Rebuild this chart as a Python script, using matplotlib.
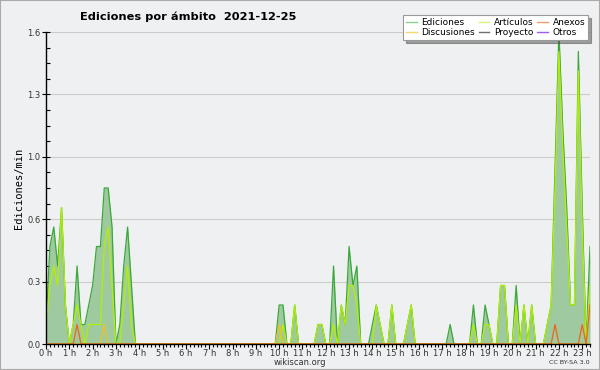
import numpy as np
import matplotlib
matplotlib.use("Agg")
import matplotlib.pyplot as plt
from matplotlib.lines import Line2D
from matplotlib.patches import Rectangle

# edits per minute, one value per 10-minute bin (00:00 .. 23:20)
ediciones = [
    0.1, 0.5, 0.6, 0.4, 0.7, 0.2, 0, 0.1, 0.4, 0.1, 0.1, 0.2,
    0.3, 0.5, 0.5, 0.8, 0.8, 0.6, 0, 0.1, 0.4, 0.6, 0.3, 0,
    0, 0, 0, 0, 0, 0, 0, 0, 0, 0, 0, 0,
    0, 0, 0, 0, 0, 0, 0, 0, 0, 0, 0, 0,
    0, 0, 0, 0, 0, 0, 0, 0, 0, 0, 0, 0,
    0.2, 0.2, 0, 0, 0.2, 0, 0, 0, 0, 0, 0.1, 0.1,
    0, 0, 0.4, 0, 0.2, 0.1, 0.5, 0.3, 0.4, 0, 0, 0,
    0.1, 0.2, 0.1, 0, 0, 0.2, 0, 0, 0, 0.1, 0.2, 0,
    0, 0, 0, 0, 0, 0, 0, 0, 0.1, 0, 0, 0,
    0, 0, 0.2, 0, 0, 0.2, 0.1, 0, 0, 0.3, 0.3, 0,
    0, 0.3, 0, 0.2, 0, 0.2, 0, 0, 0, 0.1, 0.2, 0.9,
    1.6, 1.1, 0.7, 0.2, 0.2, 1.5, 0.7, 0, 0.5,
]
articulos = [
    0.1, 0.3, 0.4, 0.3, 0.7, 0.2, 0, 0.1, 0.2, 0.1, 0, 0.1,
    0.1, 0.1, 0.1, 0.5, 0.6, 0.3, 0, 0, 0.2, 0.4, 0.1, 0,
    0, 0, 0, 0, 0, 0, 0, 0, 0, 0, 0, 0,
    0, 0, 0, 0, 0, 0, 0, 0, 0, 0, 0, 0,
    0, 0, 0, 0, 0, 0, 0, 0, 0, 0, 0, 0,
    0, 0.1, 0, 0, 0.2, 0, 0, 0, 0, 0, 0.1, 0.1,
    0, 0, 0.1, 0, 0.2, 0.1, 0.3, 0.3, 0.2, 0, 0, 0,
    0, 0.2, 0.1, 0, 0, 0.2, 0, 0, 0, 0.1, 0.2, 0,
    0, 0, 0, 0, 0, 0, 0, 0, 0, 0, 0, 0,
    0, 0, 0.1, 0, 0, 0.1, 0.1, 0, 0, 0.3, 0.3, 0,
    0, 0.2, 0, 0.2, 0, 0.2, 0, 0, 0, 0.1, 0.2, 0.8,
    1.5, 1.0, 0.6, 0.2, 0.2, 1.4, 0.6, 0, 0.3,
]
anexos = [0] * 141
anexos[8] = 0.1
anexos[131] = 0.1
anexos[138] = 0.1
anexos[140] = 0.2
discusiones = [0] * 141
discusiones[15] = 0.1
discusiones[60] = 0.1

hour_labels = ["%d h" % h for h in range(24)]
ytick_vals = [0, 0.32, 0.64, 0.96, 1.28, 1.6]
ytick_labels = ["0.0", "0.3", "0.6", "1.0", "1.3", "1.6"]

bg = "#eff0f1"
fig = plt.figure(figsize=(6, 3.7), dpi=100, facecolor=bg)
ax = fig.add_axes([46/600, 1-344/370, 544/600, 312/370], facecolor=bg)

x = np.arange(len(ediciones))
ax.fill_between(x, ediciones, 0, color="#9fca9f", lw=0, zorder=1)
ax.plot(x, ediciones, color="#3aa83a", lw=0.9, zorder=3)
ax.plot(x, articulos, color="#b2f000", lw=0.9, zorder=4)
ax.plot(x, discusiones, color="#f0c020", lw=0.9, zorder=5)
ax.plot(x, anexos, color="#f06414", lw=0.9, zorder=6)

ax.set_xlim(0, len(ediciones) - 1)
ax.set_ylim(0, 1.6)
ax.set_yticks(ytick_vals)
ax.set_yticklabels(ytick_labels)
ax.set_yticks(np.arange(0, 1.601, 0.08), minor=True)
ax.set_xticks(np.arange(0, 141, 6))
ax.set_xticklabels(hour_labels)
ax.set_xticks(np.arange(0, 141, 1), minor=True)
ax.grid(axis="y", color="#cccccc", lw=0.8, zorder=0)
ax.set_axisbelow(True)
for s in ["top", "right"]:
    ax.spines[s].set_visible(False)
for s in ["left", "bottom"]:
    ax.spines[s].set_linewidth(1.0)
    ax.spines[s].set_zorder(7)
ax.tick_params(axis="y", which="major", direction="inout", length=6, width=0.8, labelsize=6, pad=1, labelcolor="#333333")
ax.tick_params(axis="y", which="minor", direction="in", length=3, width=0.8)
ax.tick_params(axis="x", which="major", direction="out", length=3.5, width=0.8, labelsize=6, pad=0.3, labelcolor="#333333")
ax.tick_params(axis="x", which="minor", direction="out", length=2.5, width=0.8)
ax.set_ylabel("Ediciones/min", fontsize=7.5, family="DejaVu Sans Mono", labelpad=2)

fig.text(0.313, 0.955, "Ediciones por ámbito  2021-12-25", fontsize=8.2, weight="bold", ha="center", va="center")
fig.text(0.5, 0.019, "wikiscan.org", fontsize=6, ha="center", va="center", color="#333333")
fig.text(0.983, 0.019, "CC BY-SA 3.0", fontsize=4.6, ha="right", va="center", color="#333333")

handles = [
    Line2D([], [], color="#8fd18f", lw=1, label="Ediciones"),
    Line2D([], [], color="#f5d76b", lw=1, label="Discusiones"),
    Line2D([], [], color="#d6f57a", lw=1, label="Artículos"),
    Line2D([], [], color="#707070", lw=1, label="Proyecto"),
    Line2D([], [], color="#f39a6b", lw=1, label="Anexos"),
    Line2D([], [], color="#a05af0", lw=1, label="Otros"),
]
leg = fig.legend(handles=handles, ncol=3, loc="upper right", bbox_to_anchor=(0.988, 0.972),
                 fontsize=6.5, frameon=True, fancybox=False, shadow=True, borderpad=0.35,
                 labelspacing=0.1, handlelength=1.2, handletextpad=0.5, columnspacing=0.4)
leg.get_frame().set_edgecolor("#999999")
leg.get_frame().set_linewidth(0.8)

fig.patches.append(Rectangle((0, 0), 1, 1, transform=fig.transFigure, fill=False,
                             edgecolor="#aaaaaa", lw=1.5))

fig.savefig("out.png", dpi=100, facecolor=bg)
